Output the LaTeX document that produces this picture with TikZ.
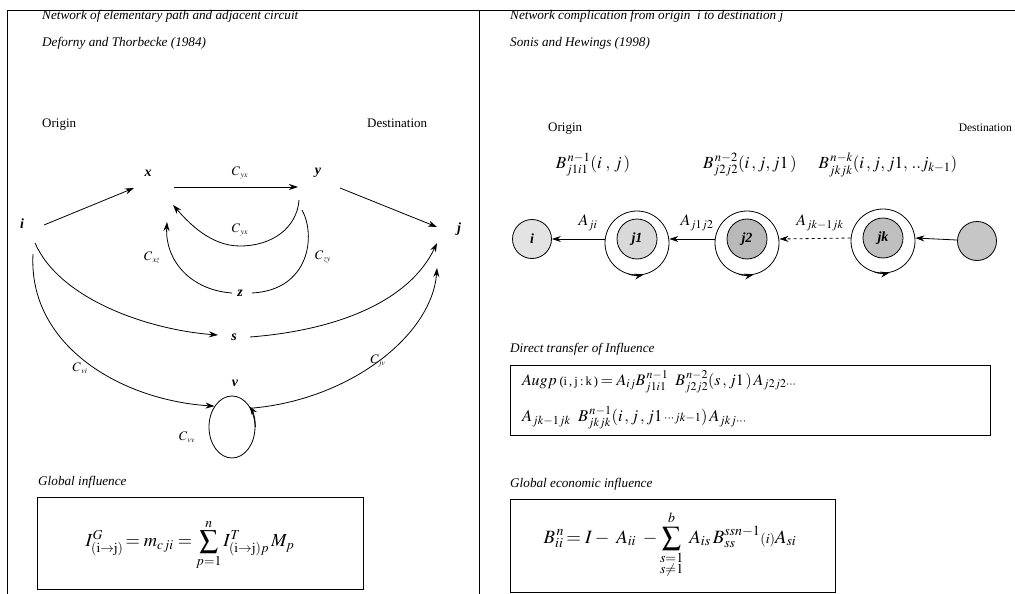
\documentclass[tikz,border=0pt]{standalone}
\usepackage{amsmath}
\usepackage{mathptmx}
\usepackage{fontspec}
\setmainfont{Liberation Serif}
\usetikzlibrary{arrows.meta,shapes.geometric}
\begin{document}
\begin{tikzpicture}[x=1pt,y=-1pt,
  arr/.style={-{Stealth[length=9pt,width=6pt]}, line width=0.8pt},
  ln/.style={line width=0.8pt},
  head/.style={font=\fontsize{13.2}{14}\selectfont\itshape, anchor=base west, inner sep=0},
  plain/.style={font=\fontsize{13}{14}\selectfont, anchor=base west, inner sep=0},
  vlbl/.style={font=\fontsize{14}{14}\selectfont\bfseries\itshape, inner sep=0},
  clab/.style={font=\fontsize{13}{13}\selectfont, inner sep=0},
  alab/.style={font=\fontsize{16}{16}\selectfont, inner sep=0},
  blab/.style={font=\fontsize{17}{17}\selectfont, inner sep=0},
  fbox/.style={draw, line width=0.8pt, inner sep=0},
  ring/.style={circle, draw, line width=0.8pt, minimum size=64pt, inner sep=0},
  core/.style={circle, draw, line width=0.8pt, minimum size=40pt, inner sep=0, font=\fontsize{14}{14}\selectfont\bfseries\itshape},
  endc/.style={circle, draw, line width=0.8pt, minimum size=39pt, inner sep=0, font=\fontsize{14}{14}\selectfont\bfseries\itshape}
]
\useasboundingbox (0,0) rectangle (1015,594);
% frame
\draw[line width=0.9pt] (7,594) -- (7,10) -- (1015,10);
\draw[line width=0.9pt] (479,10) -- (479,594);

% ---------- left panel ----------
\node[head] (h1) at (42,20) {Network of elementary path and adjacent circuit};
\node[head] (h2) at (42,47) {Deforny and Thorbecke (1984)};
\node[plain] (or1) at (42,128) {Origin};
\node[plain] (de1) at (367,128) {Destination};

\node[vlbl] (ni) at (22,224) {i};
\node[vlbl] (nx) at (148,173) {x};
\node[vlbl] (ny) at (318,173) {y};
\node[vlbl] (nj) at (459,229) {j};
\node[vlbl] (nz) at (240,293) {z};
\node[vlbl] (ns) at (234,337) {s};
\node[vlbl] (nv) at (235,383) {v};
\node[ellipse, draw, line width=0.8pt, minimum width=46pt, minimum height=62pt, inner sep=0] (vloop) at (232,427) {};

\node[clab] (c1) at (240,173) {$C_{\,\scriptscriptstyle yx}$};
\node[clab] (c2) at (240,230) {$C_{\,\scriptscriptstyle yx}$};
\node[clab] (c3) at (152,257) {$C_{\,\scriptscriptstyle xz}$};
\node[clab] (c4) at (323,257) {$C_{\,\scriptscriptstyle zy}$};
\node[clab] (c5) at (80,368) {$C_{\,\scriptscriptstyle vi}$};
\node[clab] (c6) at (378,361) {$C_{\scriptscriptstyle jv}$};
\node[clab] (c7) at (187,437) {$C_{\,\scriptscriptstyle vv}$};

\draw[arr] ([shift={(22,1)}]ni.center) -- ([shift={(-14,15)}]nx.center);
\draw[arr] ([shift={(26,14)}]nx.center) -- ([shift={(-20,14)}]ny.center);
\draw[arr] ([shift={(22,15)}]ny.center) -- ([shift={(-22,-2)}]nj.center);
\draw[arr] ([shift={(-19,27)}]ny.center) .. controls (297,228) and (272,246) .. (240,246)
   .. controls (210,246) and (188,222) .. ([shift={(25,32)}]nx.center);
\draw[ln] ([shift={(-16,37)}]ny.center) .. controls (316,235) and (310,290) .. ([shift={(12,0)}]nz.center);
\draw[arr] ([shift={(-8,0)}]nz.center) .. controls (190,290) and (165,260) .. ([shift={(19,49)}]nx.center);
\draw[arr] ([shift={(13,19)}]ni.center) .. controls (60,300) and (150,330) .. ([shift={(-16,-2)}]ns.center);
\draw[arr] ([shift={(16,0)}]ns.center) .. controls (340,330) and (410,300) .. ([shift={(-22,14)}]nj.center);
\draw[arr] ([shift={(11,30)}]ni.center) .. controls (28,345) and (120,400) .. (vloop.130);
\draw[arr] (vloop.45) .. controls (350,400) and (432,335) .. ([shift={(-22,39)}]nj.center);
\draw[arr] (vloop.east) arc[start angle=0, end angle=42, x radius=23pt, y radius=31pt];

\node[head] (gi) at (38,485) {Global influence};
\node[fbox, minimum width=326pt, minimum height=92pt] (box1) at (200,543) {};
\node[inner sep=0, font=\fontsize{18.4}{18}\selectfont] (f1) at (190,545)
  {$\displaystyle I^{G}_{(\mathrm{i\to j})}\!= m_{cji} = \sum_{p=1}^{n} I^{T}_{(\mathrm{i\to j})p}\, M_p$};

% ---------- right panel ----------
\node[head] (h3) at (510,20) {Network complication from origin\ \ i to destination j};
\node[head] (h4) at (510,47) {Sonis and Hewings (1998)};
\node[plain] (or2) at (548,131) {Origin};
\node[font=\fontsize{11.5}{12}\selectfont, anchor=base east, inner sep=0] (de2) at (1012,131) {Destination};

\node[blab] (b1) at (593,165) {$B^{\,n-1}_{j1i1}(i\;,\,j\,)$};
\node[blab] (b2) at (750,165) {$B^{\,n-2}_{j2j2}(i\,,j,j1\,)$};
\node[blab] (b3) at (888,165) {$B^{\,n-k}_{jkjk}(i\,,j,j1,\,..j_{k-1})$};

\node[endc, fill=gray!22] (ri) at (532,239) {i};
\node[ring] (oj1) at (637,243) {};
\node[core, fill=gray!30] (rj1) at (637,239) {j1};
\node[ring] (oj2) at (747,243) {};
\node[core, fill=gray!55] (rj2) at (747,239) {j2};
\node[ring] (ojk) at (883,241) {};
\node[core, fill=gray!50] (rjk) at (883,238) {jk};
\node[endc, fill=gray!45] (rl) at (977,241) {};

\draw[arr] (oj1.west |- rj1) -- (ri);
\draw[arr] (oj2.west |- rj2) -- (oj1.east |- rj1);
\draw[arr, dashed] (ojk.west |- rjk) -- (oj2.east |- rj2);
\draw[arr] (rl) -- (ojk.east |- rjk);
\draw[arr] (oj1.255) arc[start angle=255, end angle=282, radius=32pt];
\draw[arr] (oj2.255) arc[start angle=255, end angle=282, radius=32pt];
\draw[arr] (ojk.255) arc[start angle=255, end angle=282, radius=32pt];

\node[alab] (a1) at (588,223) {$A_{ji}$};
\node[alab] (a2) at (697,223) {$A_{j1j2}$};
\node[alab] (a3) at (820,223) {$A_{jk-1jk}$};

\node[head] (dt) at (510,352) {Direct transfer of Influence};
\node[fbox, minimum width=480pt, minimum height=70pt] (box2) at (750,400) {};
\node[anchor=west, inner sep=0, font=\fontsize{16}{16}\selectfont] (l1) at (522,382)
  {$Augp$\,{\fontsize{12.5}{12}\selectfont (i\,,\,j\,:\,k\,)}\,$=A_{ij}B^{\,n-1}_{j1i1}\;\; B^{\,n-2}_{j2j2}(s\,,j1\,)\,A_{j2j2\cdots}$};
\node[anchor=west, inner sep=0, font=\fontsize{16.5}{16}\selectfont] (l2) at (522,418)
  {$A_{jk-1jk}\;\; B^{\,n-1}_{jkjk}(i\,,j\,,j1\,{\scriptstyle\cdots jk-1})\,A_{jkj\cdots}$};

\node[head] (ge) at (510,487) {Global economic influence};
\node[fbox, minimum width=325pt, minimum height=93pt] (box3) at (672.5,545.5) {};
\node[inner sep=0, font=\fontsize{18.8}{18}\selectfont] (f2) at (670,545)
  {$\displaystyle B^{\,n}_{ii}\!= I -\; A_{ii} \;-\sum_{\substack{s=1\\ s\neq 1}}^{b}\; A_{is}\,B_{ss}^{ssn-1}{\scriptstyle(i)}A_{si}$};
\end{tikzpicture}
\end{document}
